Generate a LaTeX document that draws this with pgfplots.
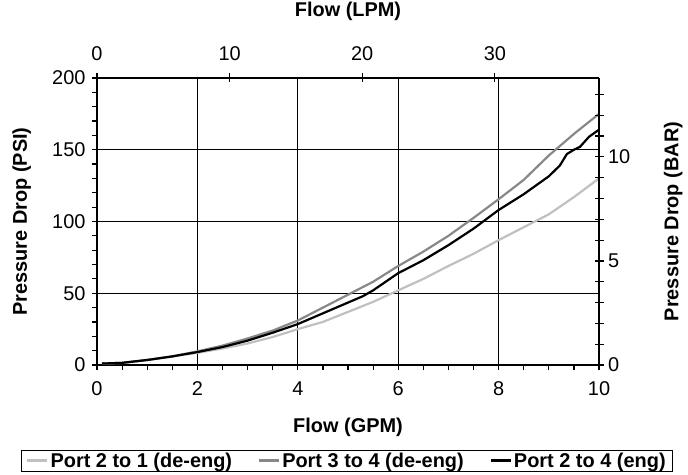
\documentclass[border=0pt]{standalone}
\usepackage{pgfplots}
\pgfplotsset{compat=1.18}
\usepackage{fontspec}
\setmainfont{Liberation Sans}
\definecolor{lgray}{HTML}{C0C0C0}
\definecolor{mgray}{HTML}{888888}
\begin{document}
\begin{tikzpicture}[font=\fontsize{20}{23}\selectfont]
\useasboundingbox (0,0) rectangle (688bp,475bp);
\begin{axis}[
  at={(97bp,110bp)}, anchor=south west,
  scale only axis, width=502bp, height=287bp,
  xmin=0, xmax=10, ymin=0, ymax=200,
  axis x line*=bottom, axis y line*=left,
  axis line style={line width=1.3bp, -},
  xtick={0,2,...,10}, ytick={0,50,...,200},
  minor x tick num=3, minor y tick num=4,
  tick align=outside, major tick length=5bp, minor tick length=5bp,
  every tick/.style={black, line width=1.2bp},
  xmajorgrids, ymajorgrids,
  major grid style={black, line width=1.2bp},
  /pgf/number format/assume math mode=true,
  ticklabel style={font=\fontsize{20}{23}\selectfont},
  xticklabel style={yshift=-8bp},
  yticklabel style={xshift=-3bp},
  xlabel={\textbf{Flow (GPM)}}, ylabel={\textbf{Pressure Drop (PSI)}},
  xlabel style={at={(axis description cs:0.5,-0.216)}, anchor=center},
  ylabel style={at={(axis description cs:-0.150,0.5)}, anchor=center},
  legend columns=3,
  legend cell align=left,
  legend style={at={(axis description cs:0.498,-0.333)}, anchor=center,
    draw=black, line width=0.8bp, inner xsep=5bp, inner ysep=0.5bp,
    font=\bfseries\fontsize{20}{23}\selectfont,
    /tikz/every even column/.append style={column sep=24bp}},
  legend image code/.code={\draw[#1] (0bp,0bp) -- (20bp,0bp);},
]
\addplot[lgray, line width=2.2bp] coordinates {
(0.1,1) (0.5,1.5) (1,3.5) (1.5,6) (2,8.5) (2.5,11.5) (3,15) (3.5,19.5)
(4,25) (4.5,30) (5,37) (5.5,44) (6,52) (6.5,60) (7,69) (7.5,77.5)
(8,87) (8.5,96) (9,105) (9.5,117) (10,130)};
\addlegendentry{Port 2 to 1 (de-eng)}
\addplot[mgray, line width=2.2bp] coordinates {
(0.1,1) (0.5,1.5) (1,3.5) (1.5,6) (2,9.5) (2.5,13.5) (3,18.5) (3.5,24)
(4,31) (4.5,40) (5,49) (5.5,58) (6,69) (6.5,79) (7,90) (7.5,102.5)
(8,115.5) (8.5,129) (9,146) (9.5,161) (10,175)};
\addlegendentry{Port 3 to 4 (de-eng)}
\addplot[black, line width=2.2bp] coordinates {
(0.1,1) (0.5,1.5) (1,3.5) (1.5,6) (2,9) (2.5,12.5) (3,17) (3.5,22.5)
(4,28.5) (4.5,36) (5,43.5) (5.3,48) (5.5,52) (6,64) (6.5,73) (7,83.5)
(7.5,95) (8,108) (8.5,119) (9,131.5) (9.22,139) (9.36,147) (9.5,150)
(9.62,152) (9.8,159) (10,164)};
\addlegendentry{Port 2 to 4 (eng)}
\end{axis}
\begin{axis}[
  at={(97bp,110bp)}, anchor=south west,
  scale only axis, width=502bp, height=287bp,
  xmin=0, xmax=37.8541, ymin=0, ymax=13.7895,
  axis x line*=top, axis y line*=right,
  axis line style={line width=1.3bp, -},
  xtick={0,10,20,30}, ytick={0,5,10},
  minor ytick={1,2,3,4,6,7,8,9,11,12,13},
  tick align=center, major tick length=9bp, minor tick length=9bp,
  every tick/.style={black, line width=1.2bp},
  /pgf/number format/assume math mode=true,
  ticklabel style={font=\fontsize{20}{23}\selectfont},
  xticklabel style={yshift=9bp},
  yticklabel style={xshift=1bp},
  xlabel={\textbf{Flow (LPM)}}, ylabel={\textbf{Pressure Drop (BAR)}},
  xlabel style={at={(axis description cs:0.5,1.232)}, anchor=center},
  ylabel style={at={(axis description cs:1.148,0.5)}, anchor=center},
]
\end{axis}
\end{tikzpicture}
\end{document}
